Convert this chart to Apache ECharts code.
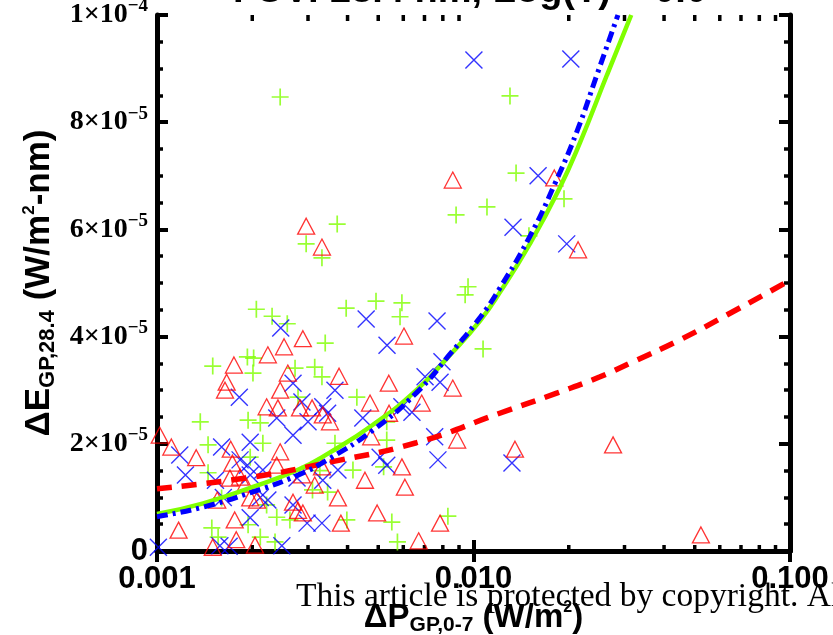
<!DOCTYPE html>
<html>
<head>
<meta charset="utf-8">
<script src="https://cdn.jsdelivr.net/npm/echarts@6/dist/echarts.min.js"></script>
<style>html,body{margin:0;padding:0;background:#fff}#c{width:833px;height:635px}</style>
</head>
<body>
<div id="c"></div>
<script>
// ---- data (x in W/m^2, y in W/m^2-nm) ----
const xTickLabels = ['0.001', '0.010', '0.100'];
const yTickMant = ['0', '2', '4', '6', '8', '1'];
const yTickExp = ['', '\u22125', '\u22125', '\u22125', '\u22125', '\u22124'];
const xMinorTicks = [0.002,0.003,0.004,0.005,0.006,0.007,0.008,0.009,0.02,0.03,0.04,0.05,0.06,0.07,0.08,0.09];

const greenPlus = [
[0.00245,8.47e-5],[0.00371,6.10e-5],[0.00881,6.27e-5],[0.01103,6.42e-5],[0.01304,8.49e-5],[0.01363,7.05e-5],
[0.01932,6.57e-5],[0.01497,5.88e-5],[0.00961,4.93e-5],[0.00941,4.78e-5],[0.00296,5.73e-5],[0.00332,5.47e-5],
[0.00396,4.53e-5],[0.00492,4.66e-5],[0.00594,4.63e-5],[0.00586,4.37e-5],[0.01072,3.77e-5],[0.00340,3.88e-5],
[0.00206,4.51e-5],[0.00231,4.38e-5],[0.00258,4.24e-5],[0.00193,3.62e-5],[0.00202,3.60e-5],[0.00150,3.45e-5],
[0.00201,3.32e-5],[0.00273,3.41e-5],[0.00315,3.43e-5],[0.00332,3.25e-5],[0.00279,2.87e-5],[0.00137,2.41e-5],
[0.00194,2.44e-5],[0.00212,2.39e-5],[0.00145,1.98e-5],[0.00216,2.01e-5],[0.00145,1.46e-5],[0.00149,0.43e-5],
[0.00156,0.26e-5],[0.00212,0.26e-5],[0.00236,0.17e-5],[0.00239,0.63e-5],[0.00428,2.87e-5],[0.00532,2.41e-5],
[0.00365,2.01e-5],[0.00532,2.07e-5],[0.00520,1.57e-5],[0.00416,1.51e-5],[0.00346,1.10e-5],[0.00398,0.58e-5],
[0.00552,0.54e-5],[0.00830,0.65e-5],[0.00575,0.17e-5],[0.00197,1.75e-5],[0.00194,0.49e-5],[0.00222,0.86e-5],
[0.00310,1.14e-5],[0.00327,1.50e-5],[0.00263,0.58e-5],[0.00160,0.99e-5]
];
const blueCross = [
[0.01003,9.16e-5],[0.0203,9.18e-5],[0.0160,7.0e-5],[0.01333,6.04e-5],[0.0197,5.73e-5],[0.01323,1.64e-5],
[0.00458,4.33e-5],[0.00767,4.29e-5],[0.00533,3.84e-5],[0.00795,3.53e-5],[0.00703,3.25e-5],[0.00784,3.15e-5],
[0.00365,3.0e-5],[0.00246,4.16e-5],[0.00269,3.13e-5],[0.00182,2.87e-5],[0.00239,2.48e-5],[0.00287,2.78e-5],
[0.00300,2.41e-5],[0.00334,2.69e-5],[0.00269,2.16e-5],[0.00118,1.79e-5],[0.00160,1.94e-5],[0.00197,2.03e-5],
[0.00123,1.42e-5],[0.00193,1.60e-5],[0.00216,1.51e-5],[0.00162,1.0e-5],[0.00212,1.0e-5],[0.00158,0.1e-5],
[0.00101,0.07e-5],[0.00197,0.62e-5],[0.00298,0.52e-5],[0.00332,0.52e-5],[0.00334,1.32e-5],[0.00346,2.57e-5],
[0.00447,2.48e-5],[0.00594,2.69e-5],[0.00639,2.59e-5],[0.00754,2.13e-5],[0.00772,1.70e-5],[0.00507,1.75e-5],
[0.00532,1.60e-5],[0.00373,1.51e-5],[0.00269,0.86e-5],[0.00248,0.1e-5],[0.00169,0.09e-5],[0.00153,1.32e-5],
[0.00197,1.42e-5],[0.00224,0.95e-5],[0.00183,1.70e-5],[0.00277,1.36e-5]
];
const redTriangle = [
[0.0086,6.92e-5],[0.00296,6.06e-5],[0.0180,6.96e-5],[0.0214,5.62e-5],[0.01352,1.90e-5],[0.0276,1.98e-5],
[0.0523,0.30e-5],[0.00332,5.67e-5],[0.00603,4.01e-5],[0.00376,3.26e-5],[0.00540,3.13e-5],[0.0086,3.04e-5],
[0.00252,3.81e-5],[0.00289,3.96e-5],[0.00224,3.66e-5],[0.00175,3.47e-5],[0.00166,3.15e-5],[0.00164,3.0e-5],
[0.00259,3.32e-5],[0.00245,3.0e-5],[0.00222,2.69e-5],[0.00241,2.67e-5],[0.00283,2.67e-5],[0.00309,2.67e-5],
[0.00334,2.54e-5],[0.00102,2.16e-5],[0.00111,1.94e-5],[0.00133,1.74e-5],[0.00171,1.90e-5],[0.00245,1.85e-5],
[0.00173,1.64e-5],[0.00170,1.36e-5],[0.00239,1.60e-5],[0.00155,0.95e-5],[0.00197,0.99e-5],[0.00207,0.95e-5],
[0.00176,0.58e-5],[0.00117,0.39e-5],[0.00178,0.21e-5],[0.00150,0.07e-5],[0.00204,0.11e-5],[0.00269,0.91e-5],
[0.00279,0.76e-5],[0.00289,0.71e-5],[0.00287,1.42e-5],[0.00315,1.23e-5],[0.00332,1.57e-5],[0.00471,2.76e-5],
[0.00541,2.57e-5],[0.00686,2.76e-5],[0.00352,2.41e-5],[0.00475,2.13e-5],[0.00888,2.07e-5],[0.00594,1.57e-5],
[0.00454,1.32e-5],[0.00607,1.19e-5],[0.00373,0.99e-5],[0.00496,0.71e-5],[0.00381,0.52e-5],[0.00784,0.52e-5],
[0.00671,0.19e-5],[0.00183,1.38e-5],[0.00190,1.25e-5]
];
const greenFit = [
[0.001,6.9e-6],[0.0014,8.9e-6],[0.002,1.19e-5],[0.0028,1.52e-5],[0.0035,1.83e-5],[0.0048,2.35e-5],[0.0066,3.0e-5],
[0.0085,3.68e-5],[0.0105,4.3e-5],[0.0121,4.82e-5],[0.0151,5.74e-5],[0.0186,6.74e-5],[0.0217,7.62e-5],[0.0264,8.88e-5],[0.0315,1.0e-4]
];
const blueFit = [
[0.001,6.4e-6],[0.0014,8.2e-6],[0.002,1.1e-5],[0.0028,1.42e-5],[0.0035,1.72e-5],[0.0048,2.25e-5],[0.0066,2.95e-5],
[0.0085,3.7e-5],[0.0105,4.36e-5],[0.0121,4.9e-5],[0.0151,5.88e-5],[0.0181,6.86e-5],[0.0212,7.82e-5],[0.0246,8.9e-5],[0.0286,1.0e-4]
];
const redFit = [
[0.001,1.16e-5],[0.002,1.38e-5],[0.0034,1.64e-5],[0.0066,2.02e-5],[0.0121,2.57e-5],[0.0184,2.95e-5],
[0.0251,3.25e-5],[0.0319,3.53e-5],[0.0449,3.94e-5],[0.063,4.40e-5],[0.1,5.05e-5]
];

const X_MIN = 0.001, X_MAX = 0.1, Y_MIN = 0, Y_MAX = 1e-4;
const SANS = "'Liberation Sans',Arial,sans-serif";
const SERIF = "'Liberation Serif','Times New Roman',serif";
const GREEN = '#80ff00', BLUE = '#0000ff', RED = '#ff0000';

const chart = echarts.init(document.getElementById('c'), null, {renderer: 'canvas'});

const axisLineStyle = {show: true, lineStyle: {color: '#000', width: 5}};
const baseY = {
  type: 'value', min: Y_MIN, max: Y_MAX, interval: 2e-5,
  axisLine: axisLineStyle,
  axisTick: {show: true, inside: true, length: 11, lineStyle: {color: '#000', width: 4}},
  minorTick: {show: true, splitNumber: 4, length: 6, lineStyle: {color: '#000', width: 3.5}},
  splitLine: {show: false}, minorSplitLine: {show: false}
};
const baseX = {
  type: 'log', logBase: 10, min: X_MIN, max: X_MAX,
  axisLine: axisLineStyle,
  axisTick: {show: true, inside: true, length: 11, lineStyle: {color: '#000', width: 4}},
  splitLine: {show: false}
};
const xNameRich = {
  a: {fontFamily: SANS, fontWeight: 'bold', fontSize: 33, color: '#000', lineHeight: 36},
  s: {fontFamily: SANS, fontWeight: 'bold', fontSize: 21, color: '#000', verticalAlign: 'bottom', lineHeight: 36},
  p: {fontFamily: SANS, fontWeight: 'bold', fontSize: 16, color: '#000', verticalAlign: 'top', lineHeight: 36}
};
const yNameRich = {
  a: {fontFamily: SANS, fontWeight: 'bold', fontSize: 35, color: '#000', lineHeight: 38},
  s: {fontFamily: SANS, fontWeight: 'bold', fontSize: 22, color: '#000', verticalAlign: 'bottom', lineHeight: 38},
  p: {fontFamily: SANS, fontWeight: 'bold', fontSize: 17, color: '#000', verticalAlign: 'top', lineHeight: 38}
};

const option = {
  animation: false,
  backgroundColor: '#fff',
  grid: {left: 157, right: 43, top: 15, bottom: 84, containLabel: false, outerBoundsMode: 'none'},
  xAxis: [
    Object.assign({}, baseX, {
      position: 'bottom',
      axisLabel: {
        show: true, margin: 13, color: '#000', fontFamily: SANS, fontWeight: 'bold', fontSize: 31,
        formatter: (v, i) => xTickLabels[i]
      },
      name: '{a|\u0394P}{s|GP,0-7}{a| (W/m}{p|2}{a|)}',
      nameLocation: 'middle', nameGap: 49,
      nameTextStyle: {color: '#000', rich: xNameRich}
    }),
    Object.assign({}, baseX, {position: 'top', axisLabel: {show: false}})
  ],
  yAxis: [
    Object.assign({}, baseY, {
      position: 'left',
      axisLabel: {
        show: true, margin: 9, color: '#000',
        formatter: (v, i) => i === 0 ? '{z|' + yTickMant[i] + '}' : '{m|' + yTickMant[i] + '\u00d710}{e|' + yTickExp[i] + '}',
        rich: {
          z: {fontFamily: SANS, fontWeight: 'bold', fontSize: 31, color: '#000'},
          m: {fontFamily: SERIF, fontWeight: 'bold', fontSize: 28, color: '#000', lineHeight: 36},
          e: {fontFamily: SERIF, fontWeight: 'bold', fontSize: 19, color: '#000', verticalAlign: 'top', lineHeight: 36}
        }
      },
      name: '{a|\u0394E}{s|GP,28.4}{a| (W/m}{p|2}{a|-nm)}',
      nameLocation: 'middle', nameRotate: 90, nameGap: 98,
      nameTextStyle: {color: '#000', rich: yNameRich}
    }),
    Object.assign({}, baseY, {position: 'right', axisLabel: {show: false}})
  ],
  graphic: [
    {type: 'text', x: 470, y: -8, z: 100, silent: true,
     style: {text: 'FUV: 28.4 nm, Log(T) ~ 0.0', fontFamily: SANS, fontWeight: 'bold', fontSize: 38, fill: '#000',
             align: 'center', verticalAlign: 'middle'}},
    {type: 'text', x: 296, y: 597, z: 100, silent: true,
     style: {text: 'This article is protected by copyright. All rights reserved', fontFamily: SERIF, fontSize: 33.5,
             fill: '#000', verticalAlign: 'middle', align: 'left'}}
  ],
  series: [
    {type: 'custom', silent: true, xAxisIndex: 0, yAxisIndex: 0, clip: false,
     data: xMinorTicks.map(v => [v, 0]),
     renderItem: (params, api) => {
       const x = api.value(0);
       const b = api.coord([x, Y_MIN]);
       const t = api.coord([x, Y_MAX]);
       return {type: 'group', children: [
         {type: 'line', shape: {x1: b[0], y1: b[1], x2: b[0], y2: b[1] - 6}, style: {stroke: '#000', lineWidth: 3.5}},
         {type: 'line', shape: {x1: t[0], y1: t[1], x2: t[0], y2: t[1] + 6}, style: {stroke: '#000', lineWidth: 3.5}}
       ]};
     }},
    {type: 'scatter', name: 'green', data: greenPlus, symbol: 'path://M5,0L5,10M0,5L10,5', symbolSize: 17,
     itemStyle: {color: 'transparent', borderColor: GREEN, borderWidth: 1.7}, emphasis: {disabled: true}, silent: true},
    {type: 'scatter', name: 'blue', data: blueCross, symbol: 'path://M0,0L10,10M10,0L0,10', symbolSize: 17,
     itemStyle: {color: 'transparent', borderColor: BLUE, borderWidth: 1.4}, emphasis: {disabled: true}, silent: true},
    {type: 'scatter', name: 'red', data: redTriangle, symbol: 'triangle', symbolSize: [17, 16],
     itemStyle: {color: 'transparent', borderColor: RED, borderWidth: 1.3}, emphasis: {disabled: true}, silent: true},
    {type: 'line', data: greenFit, smooth: 0.5, showSymbol: false, silent: true,
     lineStyle: {color: GREEN, width: 4.5, type: 'solid'}},
    {type: 'line', data: redFit, smooth: 0.5, showSymbol: false, silent: true,
     lineStyle: {color: RED, width: 5.5, type: [15, 10]}},
    {type: 'line', data: blueFit, smooth: 0.5, showSymbol: false, silent: true,
     lineStyle: {color: BLUE, width: 5, type: [11, 5, 3, 5]}}
  ]
};
chart.setOption(option);
</script>
</body>
</html>
